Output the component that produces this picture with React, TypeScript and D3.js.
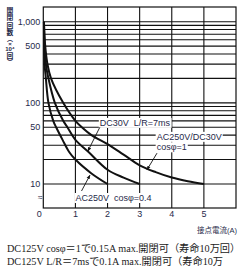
import { useLayoutEffect, useRef, useState } from "react";
import { curveCatmullRom, line, scaleLinear, scaleLog } from "d3";

const width = 243;
const height = 272;

// contact current (A) / operations (x10^4)
const innerCurrent = [0.02, 0.025, 0.04, 0.08, 0.16, 0.31, 0.4, 0.6, 0.8, 1, 1.5, 2];
const innerLife = [1000, 500, 300, 200, 100, 60, 50, 35, 25, 20, 13.5, 10];
const middleCurrent = [0.02, 0.04, 0.08, 0.16, 0.36, 0.62, 0.75, 1, 1.4, 2, 2.5, 3];
const middleLife = [1000, 500, 300, 200, 100, 60, 50, 35, 25, 15, 12, 10];
const outerCurrent = [0.02, 0.06, 0.13, 0.24, 0.62, 1, 1.2, 1.5, 2, 2.5, 3, 3.5, 4, 4.5, 5];
const outerLife = [1000, 500, 300, 200, 100, 60, 50, 40, 31, 23, 17, 14, 12, 10.8, 10];

const yTickValues = [1000, 500, 100, 50, 10];
const xTickValues = [0, 1, 2, 3, 4, 5];
const yTitle = ["開", "閉", "回", "数", "︵", "×", "10⁴", "回", "︶"];
const xTitle = "接点電流(A)";
const notes = [
  "DC125V cosφ＝1で0.15A max.開閉可（寿命10万回）",
  "DC125V L/R＝7msで0.1A max.開閉可（寿命10万",
];

const sans = "'Liberation Sans', Arial, 'Noto Sans CJK JP', sans-serif";
const labelColor = "#1f2a4a";

const xScale = scaleLinear().domain([0, 6]).range([43.3, 236]);
const yScale = scaleLog().domain([10, 1000]).range([184, 21.7]);
const plotTop = 7;
const plotBottom = 208;

const curve = line<[number, number]>()
  .x((d) => xScale(d[0]))
  .y((d) => yScale(d[1]))
  .curve(curveCatmullRom.alpha(0.5));

const zip = (a: number[], b: number[]) => a.map((v, i) => [v, b[i]] as [number, number]);

const BoxedLabel = ({ x, y, text }: { x: number; y: number; text: string }) => {
  const ref = useRef<SVGTextElement>(null);
  const [box, setBox] = useState<DOMRect | null>(null);
  useLayoutEffect(() => {
    if (ref.current) setBox(ref.current.getBBox());
  }, [text]);
  return (
    <g>
      {box && (
        <rect x={box.x - 1} y={box.y} width={box.width + 2} height={box.height} fill="white" />
      )}
      <text
        ref={ref}
        x={x}
        y={y}
        fontSize={9}
        fontFamily={sans}
        fill={labelColor}
        style={{ whiteSpace: "pre" }}
      >
        {text}
      </text>
    </g>
  );
};

export default function App() {
  const gridY = yScale.ticks();
  const gridX = [1, 2, 3, 4, 5];
  const [x0, x1] = xScale.range();

  // stack the vertical y title: full-width glyphs take more room than the small ones
  let cursor = 7;
  const titleRows = yTitle.map((c) => {
    const h = /[開閉回数]/.test(c) ? 7.2 : 5.4;
    const row = { c, y: cursor + h * 0.5, size: /[開閉回数]/.test(c) ? 6.8 : 6 };
    cursor += h;
    return row;
  });

  return (
    <svg
      width={width}
      height={height}
      viewBox={`0 0 ${width} ${height}`}
      style={{ position: "absolute", left: 0, top: 0, background: "white" }}
    >
      <defs>
        <marker id="arrow" viewBox="0 0 6 6" refX={5} refY={3} markerWidth={5} markerHeight={5} orient="auto">
          <path d="M0,0.8 L6,3 L0,5.2 Z" fill="#111" />
        </marker>
      </defs>

      {/* grid */}
      {gridY.map((v) => (
        <line key={v} x1={x0} x2={x1} y1={yScale(v)} y2={yScale(v)} stroke="#111" strokeWidth={1.1} />
      ))}
      {gridX.map((v) => (
        <line key={v} x1={xScale(v)} x2={xScale(v)} y1={plotTop} y2={plotBottom} stroke="#111" strokeWidth={1.1} />
      ))}
      <rect x={x0} y={plotTop} width={x1 - x0} height={plotBottom - plotTop} fill="none" stroke="#111" strokeWidth={1.2} />

      {/* axis break */}
      <text x={x0 - 3} y={plotBottom - 8} fontSize={8} fontFamily={sans} fill={labelColor} textAnchor="middle">
        ≈
      </text>

      {/* curves */}
      {[zip(innerCurrent, innerLife), zip(middleCurrent, middleLife), zip(outerCurrent, outerLife)].map((d, i) => (
        <path key={i} d={curve(d) ?? ""} fill="none" stroke="#111" strokeWidth={2} />
      ))}

      {/* labels with leaders */}
      <BoxedLabel x={xScale(1.76)} y={yScale(52)} text="DC30V  L/R=7ms" />
      <BoxedLabel x={xScale(3.53)} y={yScale(35)} text="AC250V/DC30V" />
      <BoxedLabel x={xScale(3.53)} y={yScale(26)} text="cosφ=1" />
      <BoxedLabel x={xScale(1)} y={yScale(10) + 17} text="AC250V  cosφ=0.4" />
      <line x1={xScale(1.76)} y1={yScale(50)} x2={xScale(1.39)} y2={yScale(25.5)} stroke="#111" strokeWidth={0.9} markerEnd="url(#arrow)" />
      <line x1={xScale(3.54)} y1={yScale(24)} x2={xScale(3.23)} y2={yScale(15)} stroke="#111" strokeWidth={0.9} markerEnd="url(#arrow)" />
      <line x1={xScale(1.19)} y1={yScale(10) + 7} x2={xScale(1.45)} y2={yScale(12.8)} stroke="#111" strokeWidth={0.9} markerEnd="url(#arrow)" />

      {/* y ticks */}
      {yTickValues.map((v) => (
        <text key={v} x={x0 - 3} y={yScale(v) + 3.2} fontSize={9} fontFamily={sans} fill={labelColor} textAnchor="end">
          {v.toLocaleString("en-US")}
        </text>
      ))}
      {/* x ticks */}
      {xTickValues.map((v) => (
        <text key={v} x={xScale(v) - (v === 0 ? 4 : 0)} y={plotBottom + 9} fontSize={9} fontFamily={sans} fill={labelColor} textAnchor="middle">
          {v}
        </text>
      ))}

      {/* axis titles */}
      {titleRows.map((r, i) => (
        <text
          key={i}
          x={10}
          y={r.y}
          dominantBaseline="central"
          fontSize={r.size}
          fontWeight={700}
          fontFamily={sans}
          fill={labelColor}
          textAnchor="middle"
        >
          {r.c}
        </text>
      ))}
      <text x={237} y={233} fontSize={7.5} fontFamily={sans} fill={labelColor} textAnchor="end">
        {xTitle}
      </text>

      {/* notes */}
      {notes.map((t, i) => (
        <text
          key={i}
          x={7}
          y={252 + i * 13}
          fontSize={10.2}
          fontFamily="'Liberation Serif', 'Noto Sans CJK JP', serif"
          fill="#222"
        >
          {t}
        </text>
      ))}
    </svg>
  );
}
